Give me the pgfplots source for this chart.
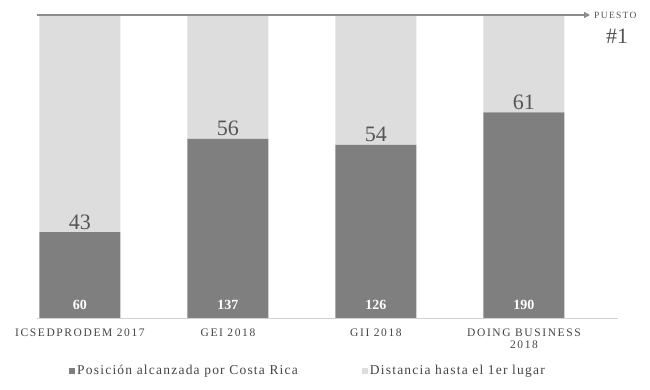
\documentclass[border=0pt]{standalone}
\usepackage{fontspec}
\setmainfont{Liberation Serif}
\newfontfamily\spaced[LetterSpace=14]{Liberation Serif}
\newfontfamily\legfont[LetterSpace=9]{Liberation Serif}
\usepackage{pgfplots}
\pgfplotsset{compat=1.18}
\usepackage{pgfplotstable}
\usetikzlibrary{arrows.meta}
\definecolor{darkbar}{HTML}{7F7F7F}
\definecolor{lightbar}{HTML}{DDDDDD}
\definecolor{numgray}{HTML}{555555}
\definecolor{linegray}{HTML}{8C8C8C}
\definecolor{txtgray}{HTML}{444444}

\pgfplotstableread{
x total dist
0 60 43
1 137 56
2 126 54
3 190 61
}\data

\begin{document}
\begin{tikzpicture}[x=1pt,y=1pt,
  wlab/.style={anchor=base, text=white, font=\bfseries\fontsize{14}{15}\selectfont}]
\path[use as bounding box] (-37,-71) rectangle (613,318);
\begin{axis}[
  at={(0,0)}, anchor=south west,
  scale only axis, width=553pt, height=303pt,
  xmin=-0.29, xmax=3.446, ymin=0, ymax=100,
  axis line style={draw=none},
  ybar stacked, bar width=81pt,
  xtick={0,1,2,3},
  xticklabels={ICSEDPRODEM 2017, GEI 2018, GII 2018, {DOING BUSINESS\\2018}},
  xticklabel style={align=center, font=\spaced\fontsize{11.5}{12}\selectfont, text=txtgray, anchor=north, yshift=-7pt},
  major tick length=0pt,
  ytick=\empty,
  legend columns=2,
  legend style={at={(0.49,-0.175)}, anchor=center, draw=none, fill=none,
    font=\legfont\fontsize{13.5}{15}\selectfont, text=txtgray,
    /tikz/every even column/.append style={column sep=62pt}},
  legend image code/.code={\fill[#1] (0pt,-3pt) rectangle (6pt,3pt);},
  clip=false,
]
\addplot[fill=darkbar, draw=none,
  point meta=explicit symbolic,
  visualization depends on={(\thisrow{total}-\thisrow{dist})/\thisrow{total}*151.5 \as \halfh},
  nodes near coords,
  every node near coord/.append style={anchor=base, inner sep=0pt, yshift=\halfh pt+3pt,
    text=numgray, font=\fontsize{22}{23}\selectfont}]
  table[x=x, y expr={(\thisrow{total}-\thisrow{dist})/\thisrow{total}*100}, meta=dist] {\data};
\addlegendentry{Posición alcanzada por Costa Rica}
\addplot[fill=lightbar, draw=none]
  table[x=x, y expr={\thisrow{dist}/\thisrow{total}*100}] {\data};
\addlegendentry{Distancia hasta el 1er lugar}
\coordinate (b0) at (axis cs:0,0);
\coordinate (b1) at (axis cs:1,0);
\coordinate (b2) at (axis cs:2,0);
\coordinate (b3) at (axis cs:3,0);
\coordinate (tl) at (rel axis cs:0,1);
\coordinate (tr) at (rel axis cs:1,1);
\coordinate (bl) at (rel axis cs:0,0);
\coordinate (br) at (rel axis cs:1.05,0);
\end{axis}
\draw[linegray!40, line width=0.8pt] (bl) -- (br);
\draw[linegray, line width=2pt, -{Triangle[length=6pt,width=6pt]}] (tl) -- (tr);
\node[anchor=west, inner sep=0pt, text=numgray, font=\spaced\fontsize{9.5}{10}\selectfont] at ([xshift=4pt]tr) {PUESTO};
\node[text=numgray, font=\fontsize{22}{23}\selectfont] at ([xshift=27pt,yshift=-21pt]tr) {\#1};
\node[wlab] at ([yshift=9pt]b0) {60};
\node[wlab] at ([yshift=9pt]b1) {137};
\node[wlab] at ([yshift=9pt]b2) {126};
\node[wlab] at ([yshift=9pt]b3) {190};
\end{tikzpicture}
\end{document}
